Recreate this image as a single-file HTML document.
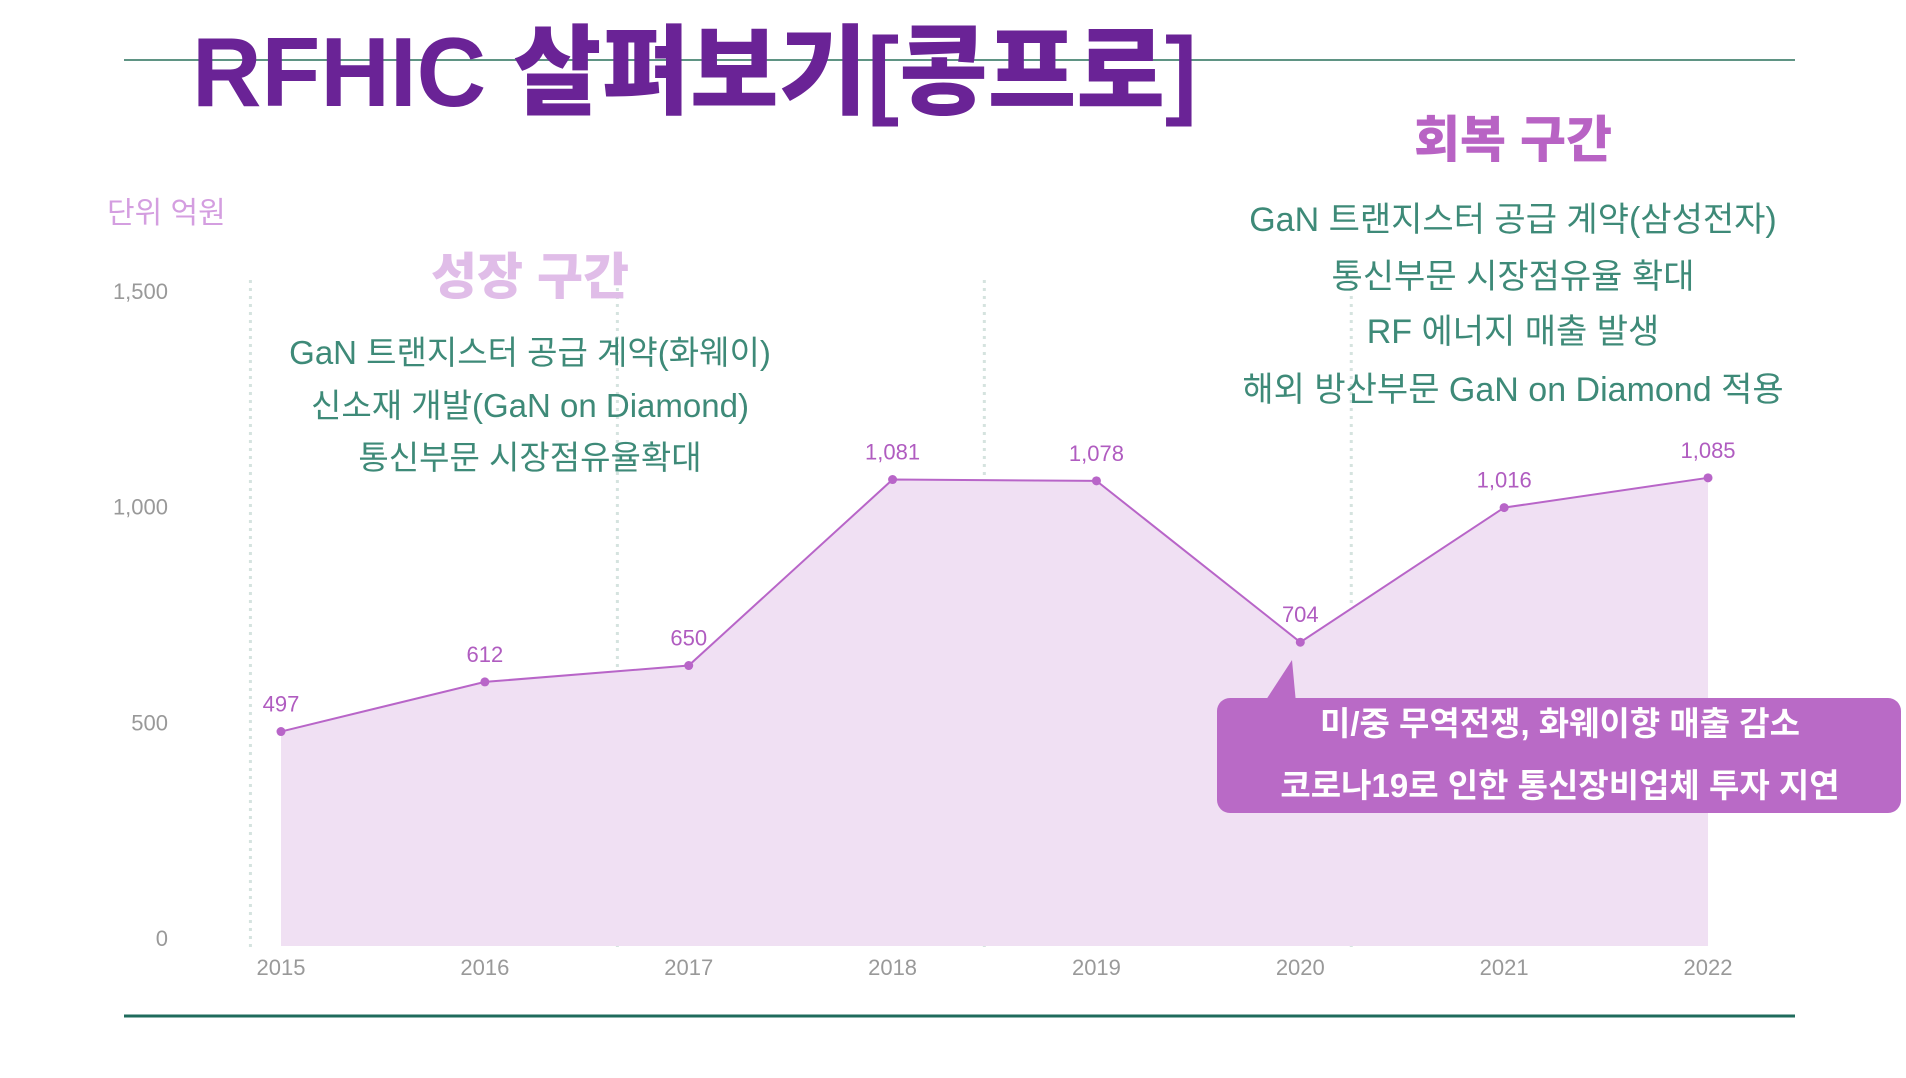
<!DOCTYPE html>
<html><head><meta charset="utf-8">
<style>
html,body{margin:0;padding:0;background:#fff;}
body{width:1906px;height:1078px;overflow:hidden;position:relative;font-family:"Liberation Sans","Noto Sans CJK KR",sans-serif;}
svg{position:absolute;left:0;top:0;}
</style></head>
<body>
<svg id="chart" width="1906" height="1078" viewBox="0 0 1906 1078">
  <line x1="124" y1="60" x2="1795" y2="60" stroke="#5f9484" stroke-width="2"/>
  <line x1="124" y1="1016" x2="1795" y2="1016" stroke="#1f6b5c" stroke-width="3"/>
  <text x="192" y="106" font-size="98" font-weight="900" fill="#6a2396" font-family="'Liberation Sans','Noto Sans CJK KR',sans-serif" textLength="1005" lengthAdjust="spacingAndGlyphs">RFHIC 살펴보기[콩프로]</text>
  <text x="107" y="223" font-size="30" fill="#d49ee0">단위 억원</text>
  <g id="grid"></g>
  <g id="area"></g>
  <g id="yaxis"></g>
  <g id="xaxis"></g>
  <g text-anchor="middle">
    <text x="530" y="294" font-size="50" font-weight="900" fill="#e0bde8">성장 구간</text>
    <text x="530" y="364" font-size="33" fill="#3e8a78">GaN 트랜지스터 공급 계약(화웨이)</text>
    <text x="530" y="417" font-size="33" fill="#3e8a78">신소재 개발(GaN on Diamond)</text>
    <text x="530" y="469" font-size="33" fill="#3e8a78">통신부문 시장점유율확대</text>
  </g>
  <g text-anchor="middle">
    <text x="1513" y="157" font-size="50" font-weight="900" fill="#b863c4">회복 구간</text>
    <text x="1513" y="231" font-size="34" fill="#3e8a78">GaN 트랜지스터 공급 계약(삼성전자)</text>
    <text x="1513" y="288" font-size="34" fill="#3e8a78">통신부문 시장점유율 확대</text>
    <text x="1513" y="343" font-size="34" fill="#3e8a78">RF 에너지 매출 발생</text>
    <text x="1513" y="401" font-size="34" fill="#3e8a78">해외 방산부문 GaN on Diamond 적용</text>
  </g>
  <g>
    <path d="M1264,703 L1292,660 L1296,703 Z" fill="#b96ac6"/>
    <rect x="1217" y="698" width="684" height="115" rx="13" fill="#b96ac6"/>
    <text x="1560" y="735" font-size="33" font-weight="700" fill="#fff" text-anchor="middle">미/중 무역전쟁, 화웨이향 매출 감소</text>
    <text x="1560" y="797" font-size="33" font-weight="700" fill="#fff" text-anchor="middle">코로나19로 인한 통신장비업체 투자 지연</text>
  </g>
</svg>
<script>
const years = ["2015","2016","2017","2018","2019","2020","2021","2022"];
const revenue = [497, 612, 650, 1081, 1078, 704, 1016, 1085];
const valueLabels = ["497","612","650","1,081","1,078","704","1,016","1,085"];
const yTicks = [0, 500, 1000, 1500];
const yTickLabels = ["0","500","1,000","1,500"];
const dividerPositions = [-0.15, 1.65, 3.45, 5.25];

const NS = "http://www.w3.org/2000/svg";
const x = i => 281 + i * 203.86;
const y = v => 946 - v * 0.4315;
function mk(tag, attrs, parent, text){
  const e = document.createElementNS(NS, tag);
  for (const k in attrs) e.setAttribute(k, attrs[k]);
  if (text !== undefined) e.textContent = text;
  parent.appendChild(e);
  return e;
}
const grid = document.getElementById('grid');
dividerPositions.forEach((p, i) => {
  const l = mk('line', {x1:x(p), x2:x(p), y1:280, y2:950, stroke:'#d5e3df', 'stroke-width':3, 'stroke-dasharray':'3 5'}, grid);
  
  
});
const area = document.getElementById('area');
let d = 'M' + x(0) + ',' + y(0);
revenue.forEach((v, i) => { d += ' L' + x(i) + ',' + y(v); });
d += ' L' + x(revenue.length - 1) + ',' + y(0) + ' Z';
const fill = mk('path', {d:d, fill:'#f0e0f3'}, area);


const line = mk('polyline', {points: revenue.map((v, i) => x(i) + ',' + y(v)).join(' '), fill:'none', stroke:'#b865c8', 'stroke-width':2}, area);


revenue.forEach((v, i) => {
  const c = mk('circle', {cx:x(i), cy:y(v), r:4.5, fill:'#b865c8'}, area);
  
  
  const t = mk('text', {x:x(i), y:y(v) - 20, 'font-size':22, fill:'#b05cc0', 'text-anchor':'middle'}, area, valueLabels[i]);
  
  
});
const yaxis = document.getElementById('yaxis');
yTicks.forEach((v, i) => {
  const t = mk('text', {x:168, y:y(v) - 0, 'font-size':22, fill:'#999', 'text-anchor':'end'}, yaxis, yTickLabels[i]);
  
  
});
const xaxis = document.getElementById('xaxis');
years.forEach((yr, i) => {
  const t = mk('text', {x:x(i), y:975, 'font-size':22, fill:'#999', 'text-anchor':'middle'}, xaxis, yr);
  
  
});
</script>
</body></html>
